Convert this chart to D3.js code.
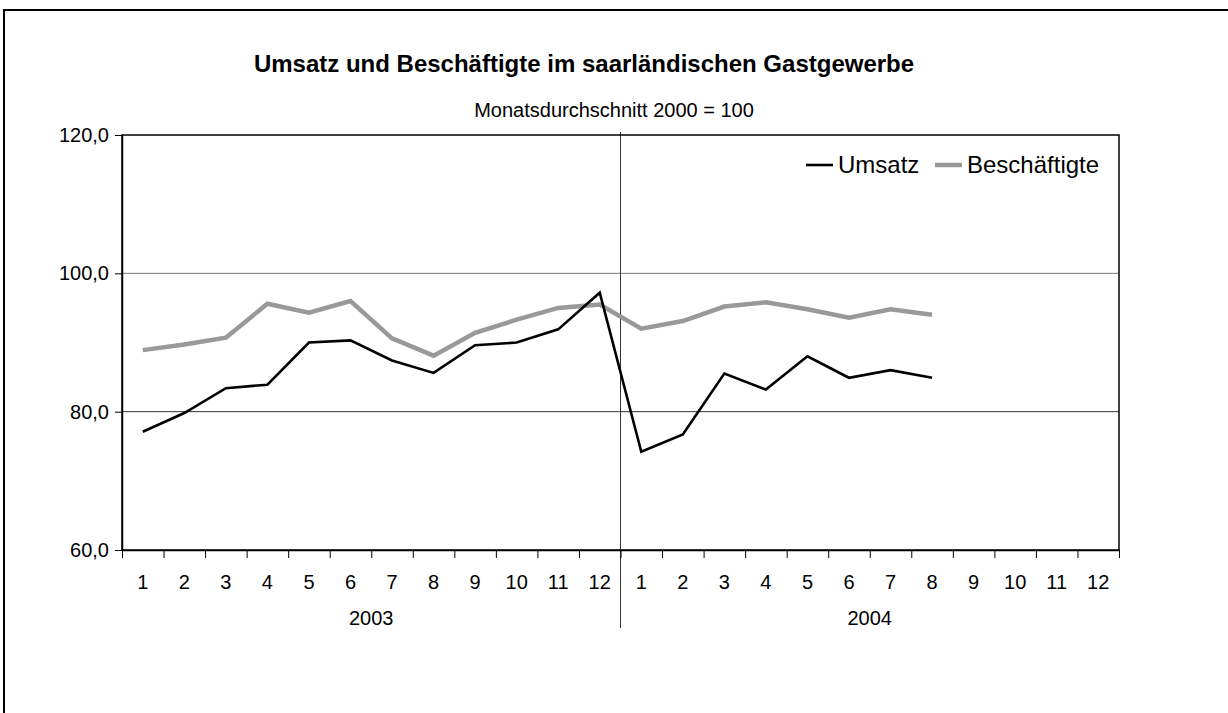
<!DOCTYPE html>
<html>
<head>
<meta charset="utf-8">
<script src="https://cdn.jsdelivr.net/npm/d3@7"></script>
<style>
  body { margin: 0; background: #fff; }
  svg { font-family: "Liberation Sans", Arial, sans-serif; }
</style>
</head>
<body>
<svg id="chart" width="1228" height="713"></svg>
<script>
// months shown on the axis, two years
var months = ['1','2','3','4','5','6','7','8','9','10','11','12'];
var years = ['2003', '2004'];

// index values, Monatsdurchschnitt 2000 = 100
var umsatz = [77.1, 79.8, 83.4, 83.9, 90.0, 90.3, 87.4, 85.6, 89.6, 90.0, 91.9, 97.2,
              74.2, 76.7, 85.5, 83.2, 88.0, 84.9, 86.0, 84.9];
var beschaeftigte = [88.9, 89.7, 90.7, 95.6, 94.3, 96.0, 90.6, 88.1, 91.4, 93.3, 95.0, 95.5,
                     92.0, 93.1, 95.2, 95.8, 94.8, 93.6, 94.8, 94.0];

var yTicks = [60, 80, 100, 120];

var plotLeft = 122, plotRight = 1119, plotTop = 135, plotBottom = 550;

var svg = d3.select('#chart');

// outer frame
svg.append('rect')
    .attr('x', 4).attr('y', 10)
    .attr('width', 1240).attr('height', 720)
    .attr('fill', 'none')
    .attr('stroke', '#000')
    .attr('stroke-width', 2);

svg.append('text')
    .attr('x', 584).attr('y', 72)
    .attr('text-anchor', 'middle')
    .attr('font-size', 24).attr('font-weight', 'bold')
    .text('Umsatz und Beschäftigte im saarländischen Gastgewerbe');

svg.append('text')
    .attr('x', 614).attr('y', 117)
    .attr('text-anchor', 'middle')
    .attr('font-size', 20)
    .text('Monatsdurchschnitt 2000 = 100');

var nCat = months.length * years.length;
var xs = d3.scaleLinear().domain([0, nCat]).range([plotLeft, plotRight]);
var ys = d3.scaleLinear().domain([60, 120]).range([plotBottom, plotTop]);

// plot area
svg.append('rect')
    .attr('x', plotLeft).attr('y', plotTop)
    .attr('width', plotRight - plotLeft).attr('height', plotBottom - plotTop)
    .attr('fill', '#fff');

// gridlines
svg.append('g')
    .selectAll('line')
    .data([80, 100])
    .enter()
    .append('line')
    .attr('x1', plotLeft).attr('x2', plotRight)
    .attr('y1', function (d) { return ys(d); })
    .attr('y2', function (d) { return ys(d); })
    .attr('stroke', function (d) { return d == 100 ? '#777' : '#333'; })
    .attr('stroke-width', 1);

// year separator
svg.append('line')
    .attr('x1', xs(12)).attr('x2', xs(12))
    .attr('y1', plotTop - 3).attr('y2', 628)
    .attr('stroke', '#333')
    .attr('stroke-width', 1);

// plot border
svg.append('rect')
    .attr('x', plotLeft).attr('y', plotTop)
    .attr('width', plotRight - plotLeft).attr('height', plotBottom - plotTop)
    .attr('fill', 'none')
    .attr('stroke', '#000')
    .attr('stroke-width', 1.5);

// y axis
var yAxis = svg.append('g')
    .attr('transform', 'translate(' + plotLeft + ',0)')
    .call(d3.axisLeft(ys).tickValues(yTicks).tickSize(7).tickSizeOuter(0)
        .tickFormat(function (d) { return d3.format('.1f')(d).replace('.', ','); }));
yAxis.attr('font-family', null);
yAxis.select('.domain').attr('stroke', '#000').attr('stroke-width', 1.5);
yAxis.selectAll('text').attr('font-size', 20).attr('fill', '#000').attr('dx', -3);

// x axis: ticks at category boundaries
var xAxis = svg.append('g')
    .attr('transform', 'translate(0,' + plotBottom + ')')
    .call(d3.axisBottom(xs).tickValues(d3.range(nCat + 1)).tickSize(8).tickSizeOuter(0)
        .tickFormat(''));
xAxis.select('.domain').attr('stroke', '#000').attr('stroke-width', 1.5);

var cats = [];
years.forEach(function (y) {
    months.forEach(function (m) { cats.push(m); });
});

svg.append('g')
    .selectAll('text')
    .data(cats)
    .enter()
    .append('text')
    .attr('x', function (d, i) { return xs(i + 0.5); })
    .attr('y', 589)
    .attr('text-anchor', 'middle')
    .attr('font-size', 20)
    .text(function (d) { return d; });

svg.append('g')
    .selectAll('text')
    .data(years)
    .enter()
    .append('text')
    .attr('x', function (d, i) { return xs(i * 12 + 6); })
    .attr('y', 625)
    .attr('text-anchor', 'middle')
    .attr('font-size', 20)
    .text(function (d) { return d; });

// lines
var line = d3.line()
    .x(function (d, i) { return xs(i + 0.5); })
    .y(function (d) { return ys(d); });

svg.append('path')
    .datum(beschaeftigte)
    .attr('d', line)
    .attr('fill', 'none')
    .attr('stroke', '#999')
    .attr('stroke-width', 4.5)
    .attr('stroke-linejoin', 'miter');

svg.append('path')
    .datum(umsatz)
    .attr('d', line)
    .attr('fill', 'none')
    .attr('stroke', '#000')
    .attr('stroke-width', 2.6)
    .attr('stroke-linejoin', 'miter');

// legend
var legend = [
    { name: 'Umsatz', color: '#000', width: 2.6, x: 806 },
    { name: 'Beschäftigte', color: '#999', width: 4.5, x: 935 }
];
var lg = svg.append('g');
legend.forEach(function (d) {
    lg.append('line')
        .attr('x1', d.x).attr('x2', d.x + 27)
        .attr('y1', 165).attr('y2', 165)
        .attr('stroke', d.color)
        .attr('stroke-width', d.width);
    lg.append('text')
        .attr('x', d.x + 32).attr('y', 173)
        .attr('font-size', 24)
        .text(d.name);
});
</script>
</body>
</html>
